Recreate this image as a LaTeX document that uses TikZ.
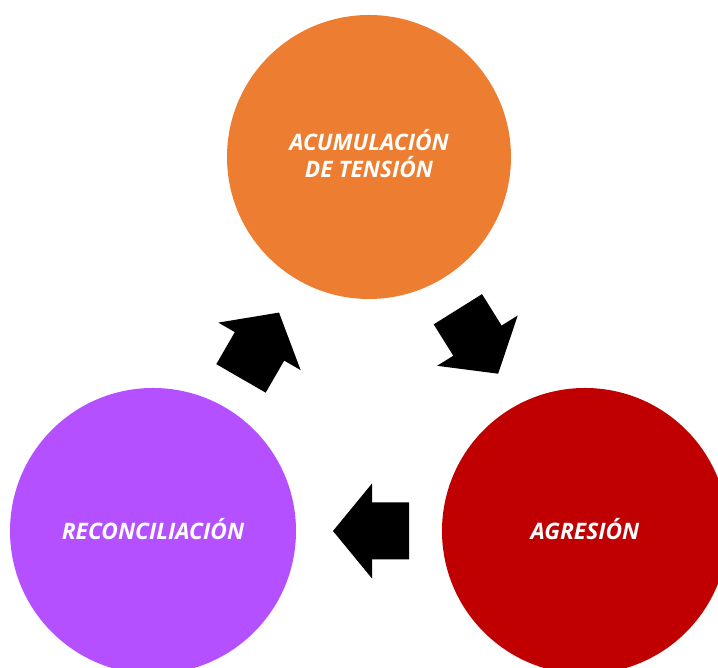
\documentclass[tikz,border=0pt]{standalone}
\usepackage{fontspec}
\setmainfont{Open Sans}
\definecolor{corange}{RGB}{237,125,49}
\definecolor{cred}{RGB}{192,0,0}
\definecolor{cpurple}{RGB}{180,80,255}
\begin{document}
\begin{tikzpicture}[x=1pt,y=1pt,
  blob/.style={circle,inner sep=0pt,fill=#1},
  lbl/.style={text=white,align=center,inner sep=0pt,
    font=\fontsize{22.7}{27}\selectfont\bfseries\itshape},
  blockarrow/.style={fill=black,draw=none}]
\useasboundingbox (0,0) rectangle (718,668);
\clip (0,0) rectangle (718,668);
\node[blob=corange,minimum size=284pt] (tension) at (369,511) {};
\node[blob=cpurple,minimum size=286pt] (recon) at (153,137) {};
\node[blob=cred,minimum size=286pt] (agres) at (585,137) {};
\node[lbl] (tensiontxt) at ([yshift=3pt]tension.center) {ACUMULACIÓN\\DE TENSIÓN};
\node[lbl] (recontxt) at ([yshift=1.5pt]recon.center) {RECONCILIACIÓN};
\node[lbl] (agrestxt) at ([yshift=1.5pt]agres.center) {AGRESIÓN};
\coordinate (a1) at (260,322.5);
\coordinate (a2) at (478,326.5);
\coordinate (a3) at (371,137);
\foreach \c/\r in {a1/60,a2/-58,a3/180}{
  \begin{scope}[shift={(\c)},rotate=\r]
    \fill[blockarrow] (38,0) -- (-1,47.5) -- (-1,28.5) -- (-38,28.5)
      -- (-38,-28.5) -- (-1,-28.5) -- (-1,-47.5) -- cycle;
  \end{scope}
}
\end{tikzpicture}
\end{document}
